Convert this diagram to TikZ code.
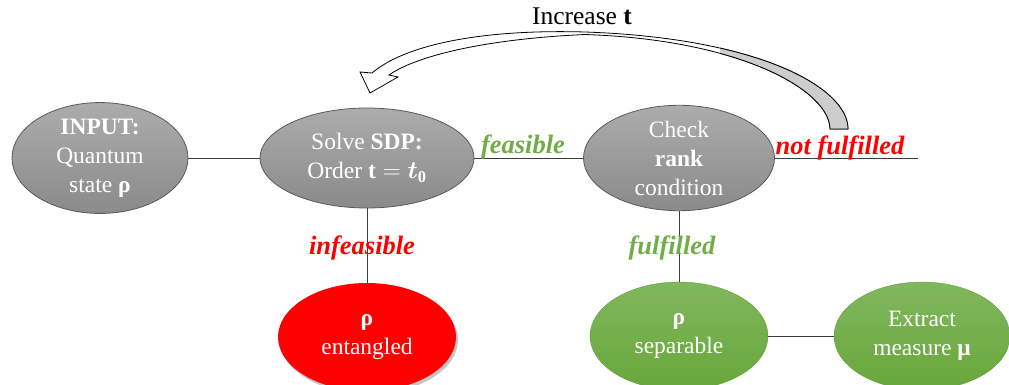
\documentclass[tikz,border=0pt]{standalone}
\usepackage{fontspec}
\setmainfont{Liberation Serif}
\usepackage{amsmath}
\usetikzlibrary{shapes.geometric,shadows}
\definecolor{gtop}{RGB}{172,172,172}
\definecolor{gbot}{RGB}{138,138,138}
\definecolor{gborder}{RGB}{90,90,90}
\definecolor{grtop}{RGB}{128,183,93}
\definecolor{grbot}{RGB}{104,167,58}
\definecolor{lblgreen}{RGB}{112,173,71}
\definecolor{lblred}{RGB}{255,0,0}
\definecolor{bandgrey}{RGB}{205,205,205}
\definecolor{conncol}{RGB}{60,60,60}
\begin{document}
\begin{tikzpicture}[x=1pt,y=-1pt,
  base/.style={ellipse, inner sep=0pt, align=center, text=white,
    font=\fontsize{23.5}{29}\selectfont},
  greystate/.style={base, draw=gborder, line width=0.8pt, top color=gtop, bottom color=gbot},
  greenstate/.style={base, top color=grtop, bottom color=grbot, draw=grbot!90!black, line width=0.3pt},
  redstate/.style={base, fill=lblred, drop shadow={shadow xshift=2pt, shadow yshift=-3pt, opacity=0.45}},
  conn/.style={draw=conncol, line width=0.8pt},
  lbl/.style={font=\fontsize{26.5}{28}\selectfont\bfseries\itshape, inner sep=0pt}
]
\useasboundingbox (0,0) rectangle (1009,385);

% curved arrow (drawn first, behind)
\def\bandpath{(848,129) .. controls (848,88) and (760,38) .. (585,32)
  .. controls (480,29) and (405,45) .. (372,73)
  -- (360,72) -- (370,93) -- (398,77) -- (389,75)
  .. controls (416,56) and (485,39) .. (585,34.5)
  .. controls (745,40) and (830,92) .. (830,129) -- cycle}
\path[fill=white, draw=black, line width=0.8pt] \bandpath;
\begin{scope}
  \clip (720,0) rectangle (900,140);
  \path[fill=bandgrey, draw=black, line width=0.8pt] \bandpath;
\end{scope}
\node[font=\fontsize{25.5}{28}\selectfont, inner sep=0pt] (inc) at (582,16) {Increase $\mathbf{t}$};

% nodes
\node[greystate, minimum width=176pt, minimum height=100pt] (input) at (100,158)
  {\textbf{INPUT:}\\Quantum\\state \textbf{ρ}};
\node[greystate, minimum width=214pt, minimum height=100pt] (sdp) at (367,158)
  {Solve \textbf{SDP:}\\Order $\mathbf{t}=\boldsymbol{t}_{\mathbf{0}}$};
\node[greystate, minimum width=191pt, minimum height=104pt] (check) at (679,158)
  {Check\\\textbf{rank}\\condition};
\node[redstate, minimum width=178pt, minimum height=108pt] (ent) at (367,337)
  {\textbf{ρ}\\entangled};
\node[greenstate, minimum width=178pt, minimum height=108pt] (sep) at (679,336)
  {\textbf{ρ}\\separable};
\node[greenstate, minimum width=176pt, minimum height=108pt] (ext) at (922,336)
  {Extract\\measure \textbf{μ}};
\coordinate (nf) at (918,158);

% connectors
\draw[conn] (input) -- (sdp);
\draw[conn] (sdp) -- (check);
\draw[conn] (check) -- (nf);
\draw[conn] (sdp) -- (ent);
\draw[conn] (check) -- (sep);
\draw[conn] (sep) -- (ext);

% labels
\node[lbl, text=lblgreen] (lfeas) at (523,147) {feasible};
\node[lbl, text=lblred] (lnf) at (840,148) {not fulfilled};
\node[lbl, text=lblred] (linf) at (362,248) {infeasible};
\node[lbl, text=lblgreen] (lful) at (672,248) {fulfilled};
\end{tikzpicture}
\end{document}
